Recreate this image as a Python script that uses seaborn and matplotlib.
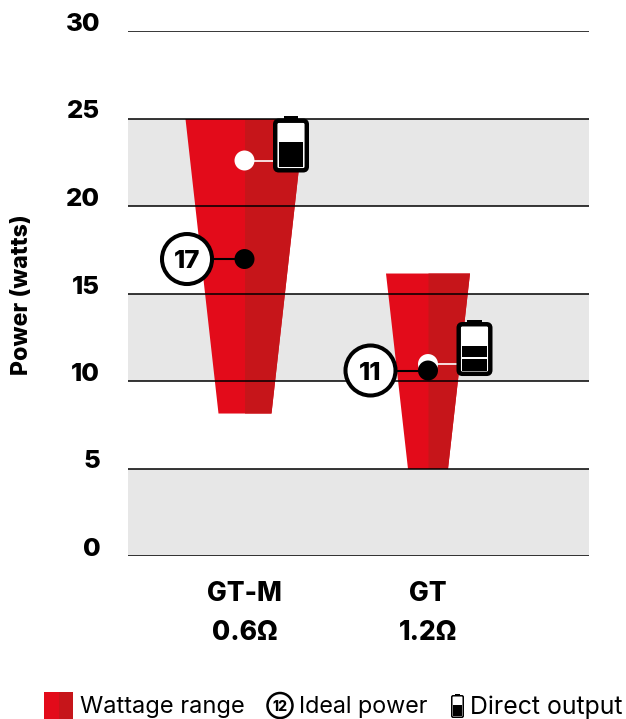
import matplotlib
matplotlib.use("Agg")
import matplotlib.pyplot as plt
from matplotlib.patches import Circle, FancyBboxPatch, Rectangle
from matplotlib.transforms import ScaledTranslation
import pandas as pd
import seaborn as sns

# data
categories = ["GT-M\n0.6Ω", "GT\n1.2Ω"]
range_low = [8.17, 5.0]
range_high = [25.0, 16.17]
ideal_power = [16.97, 10.6]
ideal_labels = ["17", "11"]
direct_output = [22.6, 10.97]
battery_cells = [1, 2]
y_ticks = [0, 5, 10, 15, 20, 25, 30]

# half widths of the wedges, in pixels (left / right of the centre)
low_left = [26.5, 20.5]
low_right = [26.5, 19.5]
high_left = [59.5, 42.5]
high_right = [59.5, 41.5]

RED = "#e30b1a"
DARK_RED = "#c6151a"
GREY = "#e7e7e7"
FONT = "Inter"

sns.set_theme(style="white")
plt.rcParams["font.family"] = [FONT, "DejaVu Sans"]

W, H = 626, 719
fig = plt.figure(figsize=(W / 100, H / 100), dpi=100)
ax = fig.add_axes([128 / W, (H - 556) / H, 461 / W, 525 / H])
PX_X = 183.5  # pixels per category step
ax.set_xlim(-116.5 / PX_X, 344.5 / PX_X)
ax.set_ylim(0, 30)
sns.despine(ax=ax, left=True, bottom=True)

# overlay in pixel coordinates for the callouts and legend
over = fig.add_axes([0, 0, 1, 1], zorder=5)
over.set_xlim(0, W)
over.set_ylim(H, 0)
over.axis("off")
over.patch.set_alpha(0)


def px(x, y):
    return 128 + (x + 116.5 / PX_X) * PX_X, 556 - y * 17.5


for low in y_ticks[::2][:3]:
    ax.axhspan(low, low + 5, color=GREY, lw=0, zorder=0)

for i in range(len(categories)):
    lo, hi = range_low[i], range_high[i]
    # whole wedge in red, the darker half laid over it so no seam shows
    ax.fill_betweenx([lo, hi], [i - low_left[i] / PX_X, i - high_left[i] / PX_X],
                     [i + low_right[i] / PX_X, i + high_right[i] / PX_X], color=RED, lw=0, zorder=1)
    ax.fill_betweenx([lo, hi], [i, i], [i + low_right[i] / PX_X, i + high_right[i] / PX_X],
                     color=DARK_RED, lw=0, zorder=1)

for t in y_ticks:
    ax.axhline(t, color="black", lw=1.1, zorder=2)

points = pd.DataFrame({
    "x": list(range(len(categories))) * 2,
    "power": direct_output + ideal_power,
    "kind": ["direct"] * 2 + ["ideal"] * 2,
})

# connectors
for i in range(len(categories)):
    ax.plot([i, i + 30 / PX_X], [direct_output[i]] * 2, color="white", lw=1.2, zorder=3)
    ax.plot([i - 45 / PX_X, i], [ideal_power[i]] * 2, color="black", lw=1.5, zorder=3)

sns.scatterplot(data=points, x="x", y="power", hue="kind", hue_order=["direct", "ideal"],
                palette={"direct": "white", "ideal": "black"}, s=207, linewidth=0,
                legend=False, ax=ax, zorder=4, clip_on=False)
ax.set_xlabel("")
ax.set_ylabel("Power (watts)", fontsize=16.7, fontweight=800, color="black")
ax.yaxis.set_label_coords(33 / W, 1 - 295 / H, transform=fig.transFigure)

ax.set_yticks(y_ticks)
ax.set_yticklabels([str(t) for t in y_ticks], fontsize=18.5, fontweight=800, color="black")
ax.tick_params(axis="y", length=0, pad=20)
ax.tick_params(axis="x", length=0, pad=18)
shift = ScaledTranslation(0, 9 / 100, fig.dpi_scale_trans)
for lab in ax.get_yticklabels():
    lab.set_transform(lab.get_transform() + shift)
ax.set_xticks(range(len(categories)))
ax.set_xticklabels(categories, fontsize=19, fontweight=800, color="black", linespacing=1.65)


def callout(cx, cy, r, text, size, lw):
    over.add_patch(Circle((cx, cy), r, fc="white", ec="black", lw=lw))
    over.text(cx, cy, text, ha="center", va="center_baseline", fontsize=size,
              fontweight=800, color="black")


def battery(x0, y0, w, h, cells, lw=3.2, level=0.535):
    # cap, body, then the charge cells
    over.add_patch(Rectangle((x0 + w * 0.3, y0 - h * 0.045), w * 0.4, h * 0.08, fc="black", ec="none"))
    m = w * 0.14
    pad = m - lw * 100 / 72 / 2
    over.add_patch(FancyBboxPatch((x0 + m, y0 + m), w - 2 * m, h - 2 * m,
                                  boxstyle=f"round,pad={pad},rounding_size={pad * 1.3}",
                                  fc="white", ec="black", lw=lw))
    inset = w * 0.16
    bottom = y0 + h - inset * 0.95
    fill_h = (h - 2 * inset) * level * 1.1
    gap = 1.2 if cells > 1 else 0
    cell_h = (fill_h - gap * (cells - 1)) / cells
    for c in range(cells):
        top = bottom - (c + 1) * cell_h - c * gap
        over.add_patch(Rectangle((x0 + inset, top), w - 2 * inset, cell_h, fc="black", ec="none"))


for i in range(len(categories)):
    cx, cy = px(i, ideal_power[i])
    callout(cx - 57.5, cy, 25, ideal_labels[i], 18.5, 2.9)
    bx, by = px(i, direct_output[i])
    battery(bx + 28.5, by - 42, 36, 54, battery_cells[i])

# legend
over.add_patch(Rectangle((44, 692), 15, 27, fc=RED, ec="none"))
over.add_patch(Rectangle((59, 692), 14, 27, fc=DARK_RED, ec="none"))
over.text(80, 705, "Wattage range", ha="left", va="center_baseline", fontsize=17, color="black")
callout(280, 705.5, 12.5, "12", 10, 1.8)
over.text(299, 705, "Ideal power", ha="left", va="center_baseline", fontsize=16.8, color="black")
battery(451, 695, 13, 23, 1, lw=1.1, level=0.55)
over.text(470, 705, "Direct output", ha="left", va="center_baseline", fontsize=17.9, color="black")

fig.savefig("out.png", dpi=100)
